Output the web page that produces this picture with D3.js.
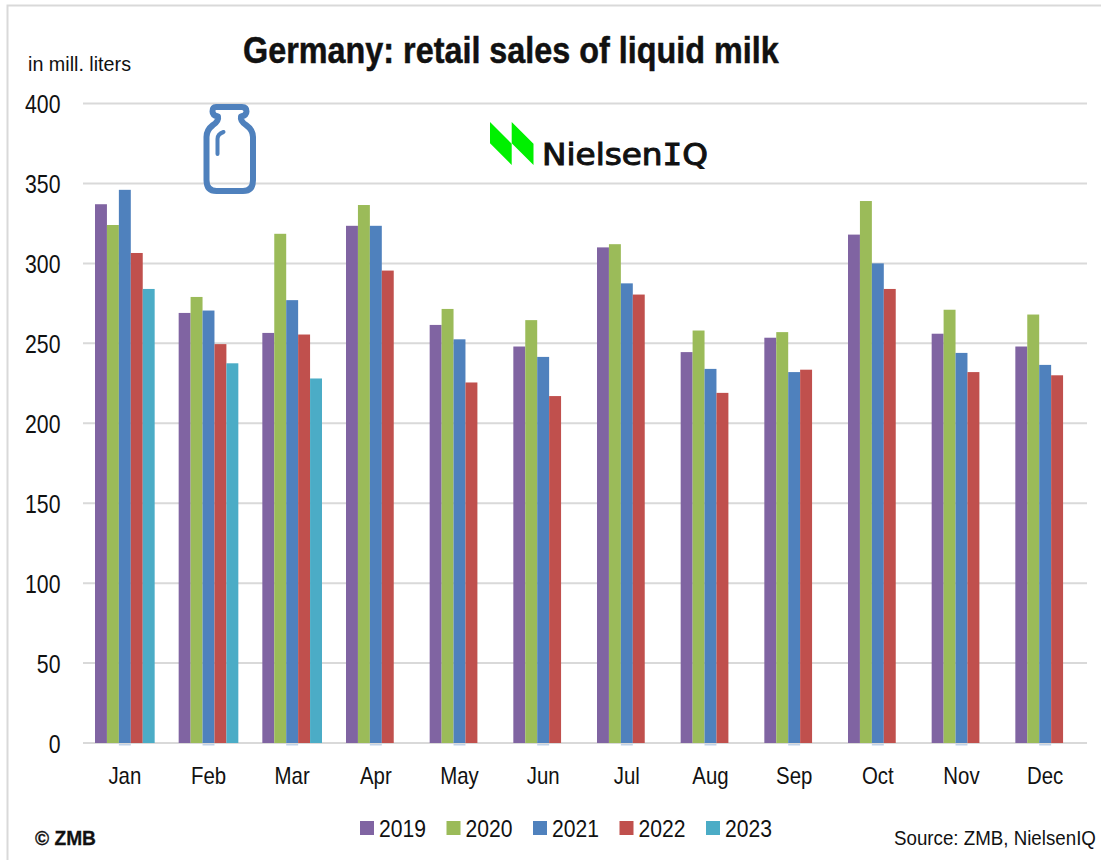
<!DOCTYPE html>
<html><head><meta charset="utf-8">
<script src="https://cdnjs.cloudflare.com/ajax/libs/d3/7.8.5/d3.min.js"></script>
<style>html,body{margin:0;padding:0;background:#fff;overflow:hidden}svg{display:block}
text{font-family:"Liberation Sans",Arial,sans-serif;fill:#111}</style>
</head><body><svg id="c" width="1101" height="860"></svg>
<script>
const months = ["Jan","Feb","Mar","Apr","May","Jun","Jul","Aug","Sep","Oct","Nov","Dec"];
const years = ["2019","2020","2021","2022","2023"];
const colors = ["#8064a2","#9bbb59","#4f81bd","#c0504d","#4bacc6"];
const y2019 = [337,269,256.5,323.5,261.5,248,310,244.5,253.5,318,256,248];
const y2020 = [324,279,318.5,336.5,271.5,264.5,312,258,257,339,271,268];
const y2021 = [346,270.5,277,323.5,252.5,241.5,287.5,234,232,300,244,236.5];
const y2022 = [306.5,249.5,255.5,295.5,225.5,217,280.5,219,233.5,284,232,230];
const y2023 = [284,237.5,228,null,null,null,null,null,null,null,null,null];
const seriesValues = [y2019,y2020,y2021,y2022,y2023];
const yTicks = [0,50,100,150,200,250,300,350,400];

const svg = d3.select("#c");
const x0 = d3.scaleBand().domain(months).range([83,1087]).paddingInner(0).paddingOuter(0);
const inner = 12;
const x1 = d3.scaleBand().domain(years).range([inner, x0.bandwidth()-inner]).padding(0);
const y = d3.scaleLinear().domain([0,400]).range([743,103.5]);

// squeeze text horizontally, as the reference uses a condensed face
function narrow(sel, ratio){
  sel.each(function(){
    const w = this.getComputedTextLength();
    d3.select(this).attr("textLength", w*ratio).attr("lengthAdjust","spacingAndGlyphs");
  });
  return sel;
}
// place a left-anchored text and scale it to a target width
function fit(sel, px, py, width){
  const w = sel.node().getComputedTextLength();
  sel.attr("transform",`translate(${px},${py}) scale(${width/w},1)`);
  return sel;
}

// outer frame
svg.append("path").attr("d","M7.5,860V5.5H1101").attr("fill","none").attr("stroke","#d9d9d9").attr("stroke-width",2);

// grid
svg.append("g").selectAll("line").data(yTicks).join("line")
  .attr("x1",83).attr("x2",1087).attr("y1",d=>y(d)).attr("y2",d=>y(d))
  .attr("stroke","#d9d9d9").attr("stroke-width",2);

// y labels
svg.append("g").call(d3.axisLeft(y).tickValues(yTicks).tickSize(0).tickPadding(0))
  .attr("transform","translate(60.5,0)")
  .call(g=>g.select(".domain").remove())
  .selectAll("text").attr("font-size",25).attr("dy","0.36em")
  .style("font-family",'"Liberation Sans"').attr("fill","#111")
  .call(narrow,0.85);

// bars
years.forEach((yr,i)=>{
  const rows = months.map((m,j)=>({m,v:seriesValues[i][j]})).filter(d=>d.v!=null);
  svg.append("g").selectAll("rect").data(rows).join("rect")
    .attr("x",d=>x0(d.m)+x1(yr))
    .attr("y",d=>y(d.v))
    .attr("width",x1.bandwidth())
    .attr("height",d=>y(0)-y(d.v))
    .attr("fill",colors[i]);
});
// faint marks below the baseline under the 2021 bars
svg.append("g").selectAll("rect").data(months).join("rect")
  .attr("x",d=>x0(d)+x1("2021")).attr("y",y(0)+1).attr("width",x1.bandwidth()).attr("height",1.5)
  .attr("fill",colors[2]).attr("opacity",0.35);

// x labels
svg.append("g").call(d3.axisBottom(x0).tickSize(0).tickPadding(0))
  .attr("transform","translate(0,775)")
  .call(g=>g.select(".domain").remove())
  .selectAll("text").attr("font-size",24).attr("dy","0.36em").attr("y",0)
  .style("font-family",'"Liberation Sans"').attr("fill","#111")
  .call(narrow,0.85);

// texts
svg.append("text").attr("font-size",37).attr("font-weight",700).attr("stroke","#111").attr("stroke-width",0.5)
  .text("Germany: retail sales of liquid milk").call(fit,243,63,536);
svg.append("text").attr("font-size",19.5).text("in mill. liters").call(fit,28,71,103);
svg.append("text").attr("font-size",20).attr("font-weight",700).attr("stroke","#111").attr("stroke-width",0.3).text("© ZMB").call(fit,35,845,61);
svg.append("text").attr("font-size",21).text("Source: ZMB, NielsenIQ").call(fit,894,845,202);

// legend
const legendX = d3.scalePoint().domain(years).range([360,706]);
const lg = svg.append("g").selectAll("g").data(years).join("g").attr("transform",d=>`translate(${legendX(d)},821)`);
lg.append("rect").attr("width",14).attr("height",14).attr("fill",(d,i)=>colors[i]);
lg.append("text").attr("font-size",24).text(d=>d).each(function(){ d3.select(this).call(fit,19,15.5,47); });

// bottle icon
svg.append("path").attr("d","M216,107H242Q246.5,107 246.5,111.5Q246.5,115.5 241,116.5Q240,121 246,125Q253,130 253,137V180Q253,191 243,191H216.5Q206.5,191 206.5,180V137Q206.5,130 213,125Q219,121 218,116.5Q212.5,115.5 212.5,111.5Q212.5,107 216,107Z")
  .attr("fill","none").attr("stroke","#4f81bd").attr("stroke-width",6).attr("stroke-linejoin","round");
svg.append("path").attr("d","M217.5,154V139Q217.5,134 223.5,132").attr("fill","none").attr("stroke","#4f81bd").attr("stroke-width",4).attr("stroke-linecap","round");

// logo
svg.append("path").attr("d","M490,122L511.7,143.7V165L490,143.3ZM511.7,122L533.5,143.7V165L511.7,143.3Z").attr("fill","#00f000");
const logo = svg.append("text").attr("x",542).attr("y",165).attr("font-size",30).attr("textLength",166).attr("lengthAdjust","spacingAndGlyphs")
  .style("font-family",'"DejaVu Sans"').attr("stroke","#111").attr("stroke-width",1);
logo.append("tspan").text("Nielsen");
logo.append("tspan").style("font-family",'"DejaVu Sans Mono"').text("I");
logo.append("tspan").text("Q");
</script></body></html>
